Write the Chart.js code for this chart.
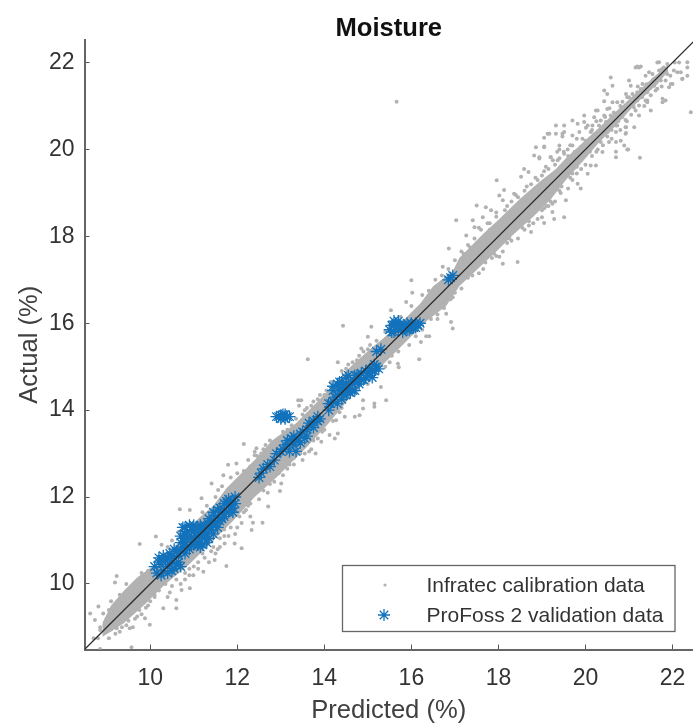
<!DOCTYPE html>
<html lang="en">
<head>
<meta charset="UTF-8">
<title>Moisture</title>
<style>
    html, body { margin: 0; padding: 0; background: #fff; }
    .wrap { width: 693px; height: 724px; }
    canvas { display: block; filter: blur(0.5px); }
</style>
</head>
<body>
<div class="wrap"><canvas id="chart" width="693" height="724"></canvas></div>
<script src="https://cdn.jsdelivr.net/npm/chart.js"></script>
<script>
const tickValues = [10, 12, 14, 16, 18, 20, 22];
const seriesNames = ['Infratec calibration data', 'ProFoss 2 validation data'];

// 1:1 reference line
const identityLine = [[8.49, 8.49], [22.5, 22.5]];

// edges of the solid part of the grey cloud
const cloudUpper = [[8.9,9.1],[9.1,9.5],[9.4,9.85],[9.7,10.15],[10.05,10.4],[10.6,10.9],[11.1,11.5],[11.45,11.8],[11.75,12.2],[12.4,12.85],[12.8,13.3],[13.35,13.7],[13.8,14.15],[14.6,15.0],[15.1,15.45],[15.35,15.65],[15.9,16.15],[16.2,16.45],[16.5,16.85],[16.95,17.2],[17.1,17.5],[17.64,18.05],[18.02,18.4],[18.48,18.85],[18.94,19.25],[19.32,19.55],[19.55,19.8],[19.93,20.15],[20.31,20.5],[20.62,20.8],[21.16,21.3],[21.6,21.7],[21.9,21.95]];
const cloudLower = [[8.9,8.78],[9.4,9.1],[9.9,9.55],[10.3,9.95],[10.9,10.45],[11.4,10.95],[11.9,11.45],[12.4,12.0],[12.9,12.45],[13.4,12.95],[13.6,13.15],[14.1,13.7],[14.6,14.3],[15.25,14.95],[15.8,15.5],[16.35,16.05],[16.8,16.4],[17.1,16.85],[17.26,17.0],[18.0,17.7],[18.35,18.05],[18.8,18.45],[19.2,18.85],[19.55,19.3],[20,19.8],[20.3,20.15],[20.7,20.55],[21.15,21.05],[21.65,21.5],[21.9,21.8]];

// grey points read around the cloud
const infratecPoints = [
[22.42,20.86],[22.34,22.01],[22.34,21.7],[22.22,21.62],[22.11,21.78],[22,21.51],[21.92,21.43],[21.77,21.17],[21.84,21.13],[21.69,22.01],[21.46,21.78],[21.19,21.91],[21.27,21.91],[21,21.59],[21.04,21.47],[20.58,21.66],[20.62,21.47],[20.43,21.36],[20.5,21.28],[21.5,20.9],[21.23,20.78],[21.42,21.13],[20.92,20.68],[20.92,20.51],[21.12,20.51],[20.92,20.36],[20.81,20.2],[20.89,20.09],[20.7,20.17],[20.98,20],[20.7,19.82],[21.25,19.81],[20.24,20.9],[20.43,21.11],[19.97,20.78],[19.7,20.67],[19.82,20.59],[19.51,20.55],[19.32,20.55],[19.51,20.4],[19.13,20.36],[19.05,20.27],[19.47,20.3],[18.86,20.05],[19.05,20.05],[19.4,20.09],[18.82,19.86],[18.94,19.82],[19.2,19.82],[18.59,19.55],[18.69,19.48],[19.09,19.6],[18.52,19.37],[17.96,19.29],[18.13,19.07],[18.02,18.94],[18.1,18.83],[18.36,18.98],[17.5,18.71],[17.71,18.67],[17.83,18.6],[17.03,18.37],[17.41,18.37],[17.45,18.21],[17.26,18.02],[17.64,18.44],[16.86,17.72],[19.51,18.44],[19.28,18.4],[19.24,18.56],[19.05,18.31],[19,18.44],[18.75,18.1],[19.55,18.83],[19.43,19],[19.24,18.75],[19.89,19.1],[19.82,19.21],[20.05,19.44],[20.24,19.63],[18.02,17.53],[18.44,17.41],[18.1,17.37],
[21.75,21.85],[21.55,21.6],[21.4,21.5],[21.3,21.2],[21.2,21.45],[21.1,21.05],[21,21.2],[20.85,21.1],[20.75,20.65],[20.8,21],[20.6,20.45],[20.55,20.95],[20.45,20.75],[20.35,20.3],[20.25,20.65],[20.15,20.45],[20.1,19.95],[20.05,20.55],[19.9,19.55],[19.8,20.25],[19.7,19.45],[19.65,20.1],[19.45,19.15],[19.35,19.95],[19.1,18.7],[18.85,19.35],[18.7,18.35],[18.65,19.15],[18.4,18.95],[18.25,17.95],[18.2,18.7],[17.95,18.55],[17.9,17.6],[17.75,18.3],[17.6,17.4],[17.55,18.2],[17.35,17.75],[17.3,17.05],[16.95,16.6],[16.7,16.95],
[15.66,21.1],[14.43,15.94],[15.08,15.92],[13.62,15.17],[16,16.99],[16.02,16.7],[15.88,16.49],[15.53,16.3],[14.31,15.1],[15,15.69],[14.85,15.42],[16.18,15.17],[16.34,15.7],[16.41,15.7],[16.22,15.57],[15.69,15.07],[15.71,14.99],[15.42,14.23],[15.15,14.15],[15.15,14.08],[14.89,14.23],[14.89,14.04],[14.81,13.88],[14.7,13.85],[14.47,13.85],[14.27,13.77],[14.31,13.46],[14.12,13.43],[14.24,13.35],[13.93,13.27],[13.8,13],[13.4,14.23],[13.47,14.23],[13.42,14.1],[12.15,13.22],[12.4,13.04],[16.91,16.03],[16.95,15.88],[16.8,16.22],[15.3,14.53],[16.72,17.3],
[9.76,10.92],[10.13,11.09],[10.26,10.9],[9.23,10.18],[9.19,10.03],[8.81,9.48],[8.92,9.32],[8.62,9.32],[8.73,9.17],[8.85,8.94],[9.04,8.98],[8.85,8.5],[9.57,8.54],[9.23,8.98],[9.53,8.98],[9.99,9.06],[9.88,9.21],[10.3,9.44],[10.6,9.63],[10.6,9.44],[10.72,9.86],[10.91,9.9],[10.99,10.2],[11.22,10.28],[11.48,10.55],[11.75,10.41],[12.1,10.82],[11.71,10.93],[11.94,10.93],[11.6,11.05],[12.33,11.24],[12.58,11.41],[12.36,11.41],[12.71,11.78],[12.98,12.14],[13.01,12.31],[10.68,11.72],[10.91,11.7],[11.18,11.97],[11.41,12.31],[11.56,12.16],[11.68,12.5],[11.79,12.74],[11.98,12.77],[12.44,13.12],[12.4,12.96],[12.82,13.23],
[8.7,8.75],[8.95,9.05],[9.1,9.6],[9.3,9.75],[9.45,10],[9.6,9],[9.7,9.25],[9.8,10.25],[10.1,9.7],[10.25,10.6],[10.45,9.8],[10.8,10.25],[11.1,10.5],[11.55,10.8],[11.7,11.25],[12.05,11.55],[12.25,11.8],[12.5,11.95],[12.75,12.3],[12.3,12.7],[12.6,13.1],[13.2,12.75],[13.5,12.85],[13.7,13.1],[13.95,13.5],[14.4,14.05],[15,14.6],[15.5,15.1],[16.1,15.7],[16.6,16.1],
[21.15,21.89],[21.23,21.89],[21.65,22],[21.88,21.97],[22.15,22],[22.34,21.89],[22.19,21.78],[22.23,21.63],[22.03,21.82],[21.38,21.7],[21.54,21.74],[21.69,21.82],[21.8,21.89],[21.88,21.74],[21.84,21.59],[21.96,21.51],[21.73,21.59],[21.58,21.63],[21.46,21.51],[21.31,21.51],[21.27,21.39],[21.42,21.32],[21.58,21.47],[21.61,21.36],[21.42,21.09],[21.77,21.09],[20.93,21.28],[20.62,21.09],[20.73,21.09],[20.96,21.2],[21.08,21.28],[21.19,21.32],[21.31,21.24],[21.19,21.13],[21.11,20.97],[21.23,21.01],[21.38,21.13],[20.85,20.93],[20.5,20.93],[20.43,20.78],[20.28,20.9],[20.58,20.78],[20.35,20.67],[20.16,20.55],[20.01,20.5],[19.97,20.63],[20.2,20.74],[20.31,20.55],[20.47,20.63],[20.66,20.67],[20.73,20.55],[20.93,20.51],[20.93,20.38],[20.7,20.4],[20.51,20.4],[20.12,20.4],[19.86,20.4],[19.7,20.32],[19.93,20.25],[20.16,20.25],[20.35,20.17],[20.54,20.17],[20.28,20],[20.08,20.09],[19.89,20.05],[19.7,20.09],[19.59,20],[19.51,19.9],[19.4,20],[19.47,20.36],[19.32,20.36],[19.17,20.36],[19.05,20.07],[18.94,19.79],[19.2,19.83],[19.36,19.75],[19.7,19.82],[19.93,19.82],[20.12,19.63],[20.39,19.94],[20.7,19.95],[20.96,20],
[9.05,8.75],[9.15,9.3],[9.2,8.85],[9.3,9.55],[9.35,9],[9.45,9.7],[9.5,9.15],[9.55,9.9],[9.65,9.2],[9.7,10],[9.75,9.4],[9.85,10.15],[9.9,9.45],[9.95,10.3],[10,9.6],
[10.1,9.75],[10.2,9.85],[10.35,10],[10.4,9.7],[10.5,9.95],[10.6,10.1],[10.7,10],[10.8,10.1],[10.9,10.2],[11,10.4],[11.1,10.35],[11.25,10.6],[11.35,10.5],[11.4,10.75],[11.5,10.7],[11.6,10.85],[11.8,11.1],[11.85,11.3],[11.95,11.15],[12.1,11.4],[12.2,11.7],[12.3,11.55],
[11.2,11.65],[11.3,11.8],[11.5,12],[11.65,12.25],[11.85,12.45],[12,12.55],[12.15,12.6],[12.25,12.85],[12.45,12.95],[12.55,13],[12.65,13.2],[12.75,13.3],
[12.6,12.15],[12.85,12.35],[13.05,12.5],[13.3,12.75],[13.45,13],[13.65,13.05],[13.85,13.35],[14,13.55],[14.2,13.75],[14.35,13.95],
[13.05,13.5],[13.25,13.65],[13.5,13.9],[13.6,14.05],[13.75,14.2],[13.9,14.35],[14.05,14.45],[14.15,14.65],[14.4,14.9],[14.55,15.05],[14.75,15.15],[14.9,15.35],[15.05,15.5],
[15.4,15],[15.55,15.25],[15.7,15.35],[15.95,15.5],[16.1,15.85],[16.25,15.85],[16.45,16.1],[16.6,16.2],[16.75,16.35],[16.9,16.55],[17,16.7],[17.15,16.8],
[15.4,15.8],[15.5,15.95],[15.75,16.15],[16,16.4],[16.25,16.65],[16.4,16.75],[16.55,17],[16.7,17.1],[16.85,17.25],[17,17.45],[17.15,17.65],[17.3,17.8],[17.45,17.95],
[17.4,17.1],[17.55,17.15],[17.7,17.4],[17.85,17.5],[18.1,17.65],[18.2,17.85],[18.45,17.95],[18.6,18.15],[18.7,18.25],[18.9,18.4],[19,18.6],[19.15,18.7],[19.3,18.8],[19.4,19.05],[19.6,19.1],[19.7,19.3],[19.8,19.45],
[17.6,18.15],[17.8,18.3],[17.95,18.45],[18.15,18.6],[18.3,18.8],[18.45,18.9],[18.6,19.05],[18.75,19.2],[18.9,19.3],[19.05,19.5],[19.15,19.55],[19.25,19.75],[19.4,19.8],[19.5,19.95],
[19.3,19.65],[19.4,19.3],[19.5,19.65],[19.6,19.85],[19.65,19.35],[19.75,19.95],[19.8,19.6],[19.9,19.75],[20,20.2],[20,19.65],[20.1,20.25],[20.15,19.85],[20.2,20.35],[20.25,19.95],[20.3,20.3],[20.4,20.1],[20.4,20.45],[20.5,20.3],[20.55,20.6],[20.6,20.25],[20.65,20.85],[20.7,20.55],[20.8,20.45],[20.85,20.75],[20.9,20.9],[20.95,20.65],[21,20.95],[21.05,20.8],[21.1,21.15],[21.15,20.9],[21.25,21.25],[21.35,21],[21.4,21.35],[21.5,21.25],[21.55,21.55],[21.65,21.4],[21.7,21.7],[21.75,21.45],[21.85,21.8],[21.95,21.7],[22.05,22],
[9,9.2],[9.1,8.95],[9.25,9.35],[9.3,8.9],[9.4,9.45],[9.45,9.05],[9.6,9.35],[9.6,9.7],[9.8,9.3],[9.8,9.85],[9.95,9.5],[10,10.2],[9.05,9.4],[8.85,9],[8.8,8.75],
[10.4,10.85],[10.5,11],[10.65,11.2],[10.9,10.35],[11.2,10.7],[11.45,10.85],[11.7,11.1],[12,11.3],[12.15,11.65],[12.3,11.85],[12.45,12.15],[12.7,12.1],[12.95,12.55],[13.15,12.65],[13.3,12.9],[13.55,13],[13.75,13.3],[13.95,13.6],[14.1,13.8],[14.25,14],
[12.5,12.85],[12.65,13.05],[12.85,13.25],[12.95,13.35],[13.15,13.55],[13.35,13.8],[13.55,14],[13.7,14.1],[13.85,14.25],[14,14.35],[14.5,14.95],[14.65,15.1],[14.8,15.25],[15,15.4],[15.2,15.6],
[17.2,17.6],[17.35,17.3],[17.5,17.85],[17.65,17.25],[17.8,18.15],[17.95,17.55],[18.1,18.35],[18.3,17.9],[18.35,18.6],[18.55,18.2],[18.55,18.85],[18.8,18.3],[18.85,19.1],[19.05,18.65],[19,19.4],[19.2,18.8]
];

// blue stars
const profossPoints = [
[10.15,10.25],[10.2,10.5],[10.2,10.6],[10.3,10.3],[10.35,10.55],[10.4,10.4],[10.45,10.7],[10.5,10.3],[10.5,10.5],[10.55,10.8],[10.6,10.45],[10.65,10.65],[10.7,10.95],[10.7,11.1],[10.75,11.3],[10.8,10.7],[10.8,10.95],[10.85,11.2],[10.9,11.35],[10.9,10.8],[10.95,11.05],[11,10.9],[11,11.2],[11,11.35],[11.05,11.1],[11.1,10.9],[11.15,11.2],[11.15,11.35],[11.2,10.9],[11.2,11.05],[11.25,11.35],[11.3,11.15],[11.35,11.5],[11.4,11.25],[11.45,11.65],[11.5,11.4],[11.55,11.55],[11.6,11.75],[11.65,11.5],[11.7,11.7],[11.75,11.9],[11.8,11.65],[11.85,11.85],[11.9,11.75],[11.85,11.9],[11.15,10.85],
[10.1,10.4],[10.25,10.2],[10.25,10.45],[10.3,10.65],[10.4,10.25],[10.4,10.6],[10.45,10.45],[10.5,10.65],[10.55,10.35],[10.55,10.6],[10.6,10.75],[10.65,10.5],[10.7,10.4],[10.7,10.75],[10.75,10.85],[10.75,11.05],[10.8,11.15],[10.8,11.3],[10.85,10.85],[10.85,11.05],[10.95,11.25],[10.95,10.9],[11,11.05],[11.05,11.3],[11.05,10.95],[11.1,11.1],[11.1,11.3],[11.2,11.2],[11.25,11.05],[11.25,11.2],[11.3,10.95],[11.3,11.3],[11.35,11.05],[11.35,11.35],[11.4,11.45],[11.45,11.15],[11.45,11.35],[11.5,11.55],[11.55,11.3],[11.55,11.7],[11.6,11.45],[11.65,11.65],[11.7,11.85],[11.7,11.55],[11.75,11.65],[11.8,11.8],[11.8,11.95],[11.9,11.65],[11.95,11.85],[11.95,12],
[12.55,12.55],[12.7,12.75],[12.85,12.85],[13,13.05],[13.1,13.2],[13.15,13.3],[13.2,13.05],[13.3,13.2],[13.3,13.4],[13.4,13.3],[13.45,13.45],[13.55,13.35],[13.6,13.55],[13.7,13.65],[13.75,13.75],[13.85,13.75],[13.85,13.85],
[13.05,13.1],[13.2,13.2],[13.25,13.35],[13.35,13.05],[13.35,13.3],[13.45,13.25],[13.5,13.5],[13.6,13.4],[13.65,13.7],[13.75,13.6],[13.9,13.8],[12.6,12.65],[12.75,12.7],[12.9,13],[12.5,12.45],
[12.95,13.85],[13,13.8],[13.05,13.9],[13.1,13.8],[13.15,13.85],[13.1,13.9],[13,13.88],[12.9,13.85],[13.2,13.85],
[14.1,14],[14.15,14.15],[14.2,14.55],[14.25,14.3],[14.3,14.6],[14.35,14.45],[14.4,14.65],[14.45,14.35],[14.45,14.5],[14.5,14.75],[14.55,14.5],[14.6,14.65],[14.65,14.45],[14.7,14.65],[14.75,14.8],[14.8,14.75],[14.85,14.85],[14.9,14.7],[15,14.85],[15.05,14.95],[15.15,14.9],[15.2,15],[15.1,14.75],[14.3,14.15],[14.2,14.45],
[14.1,14.15],[14.2,14.2],[14.3,14.35],[14.35,14.65],[14.4,14.25],[14.4,14.45],[14.5,14.35],[14.5,14.6],[14.55,14.8],[14.6,14.4],[14.65,14.6],[14.7,14.45],[14.7,14.8],[14.8,14.6],[14.85,14.7],[14.95,14.75],[14.95,14.9],[15.05,14.8],[15.1,14.9],[15.15,15.05],[15.25,14.95],
[15.2,15.35],[15.3,15.4],
[15.55,15.95],[15.6,15.8],[15.65,16],[15.7,15.85],[15.75,15.95],[15.8,15.8],[15.85,15.95],[15.95,15.85],[16,16],[16.05,15.9],[16.1,16],[16.15,15.95],[15.6,16.05],
[15.5,15.85],[15.55,15.8],[15.6,15.95],[15.7,15.95],[15.7,16.05],[15.8,15.9],[15.9,15.85],[15.9,16],[16,15.9],[16.1,15.9],[16.2,16],
[16.85,17],[16.9,17.05],[16.95,17.1]
];

const GREY = '#b2b2b2';
const BLUE = '#1272bb';

function toXY(list) {
    return list.map(p => ({ x: p[0], y: p[1] }));
}

// matlab style legend box, drawn after the marks
const legendBox = {
    id: 'legendBox',
    afterDraw(chart) {
        const c = chart.ctx;
        c.save();
        c.fillStyle = '#fff';
        c.strokeStyle = '#666';
        c.lineWidth = 1.3;
        c.fillRect(342.5, 565.5, 332.5, 66);
        c.strokeRect(342.5, 565.5, 332.5, 66);
        c.font = '21px "Liberation Sans"';
        c.fillStyle = '#333';
        c.textBaseline = 'middle';
        c.fillText(seriesNames[0], 426.5, 586);
        c.fillText(seriesNames[1], 426.5, 616);
        c.fillStyle = GREY;
        c.beginPath();
        c.arc(385, 585, 1.6, 0, Math.PI * 2);
        c.fill();
        c.strokeStyle = BLUE;
        Chart.helpers.drawPoint(c, { pointStyle: 'star', radius: 6, borderWidth: 1.3 }, 384, 615);
        c.restore();
    }
};

const tickStyle = { color: '#333', font: { family: '"Liberation Sans"', size: 23 } };
const labelFont = { family: '"Liberation Sans"', size: 25.6 };

new Chart(document.getElementById('chart').getContext('2d'), {
    type: 'scatter',
    data: {
        datasets: [
            { label: 'cloud top', data: toXY(cloudUpper), showLine: true, pointRadius: 0, borderWidth: 0, backgroundColor: GREY, fill: { target: 1 }, order: 5 },
            { label: 'cloud bottom', data: toXY(cloudLower), showLine: true, pointRadius: 0, borderWidth: 0, fill: false, order: 5 },
            { label: seriesNames[0], data: toXY(infratecPoints), pointRadius: 2, pointBorderWidth: 0, pointBackgroundColor: GREY, order: 4 },
            { label: seriesNames[1], data: toXY(profossPoints), pointStyle: 'star', pointRadius: 6, pointBorderWidth: 1.3, pointBorderColor: BLUE, order: 3 },
            { label: 'identity', data: toXY(identityLine), showLine: true, pointRadius: 0, borderColor: '#2b2b2b', borderWidth: 1.3, order: 1 }
        ]
    },
    options: {
        responsive: false,
        animation: false,
        layout: { padding: 0, autoPadding: false },
        plugins: {
            legend: { display: false },
            tooltip: { enabled: false },
            title: {
                display: true,
                text: 'Moisture',
                fullSize: false,
                color: '#111',
                font: { family: '"Liberation Sans"', size: 25.6, weight: 'bold' },
                padding: { top: 13.6, bottom: -4.3 }
            }
        },
        scales: {
            x: {
                type: 'linear',
                min: 8.49,
                max: 22.47,
                afterBuildTicks: s => { s.ticks = tickValues.map(v => ({ value: v })); },
                afterFit: s => { s.height = 74.5; s.paddingLeft = 0; s.paddingRight = 0; },
                grid: { drawOnChartArea: false, tickLength: -5, tickColor: '#555', tickWidth: 1 },
                border: { color: '#666', width: 2 },
                ticks: { ...tickStyle, padding: 20, maxRotation: 0 },
                title: { display: true, text: 'Predicted (%)', color: '#404040', font: labelFont, padding: { top: 0, bottom: -2 } }
            },
            y: {
                type: 'linear',
                min: 8.49,
                max: 22.52,
                afterBuildTicks: s => { s.ticks = tickValues.map(v => ({ value: v })); },
                afterFit: s => { s.width = 84.5; s.paddingTop = 0; s.paddingBottom = 0; },
                grid: { drawOnChartArea: false, tickLength: -5, tickColor: '#555', tickWidth: 1 },
                border: { color: '#666', width: 2 },
                ticks: { ...tickStyle, padding: 15 },
                title: { display: true, text: 'Actual (%)', color: '#404040', font: labelFont, padding: { top: 15, bottom: 0 } }
            }
        }
    },
    plugins: [legendBox]
});
</script>
</body>
</html>
